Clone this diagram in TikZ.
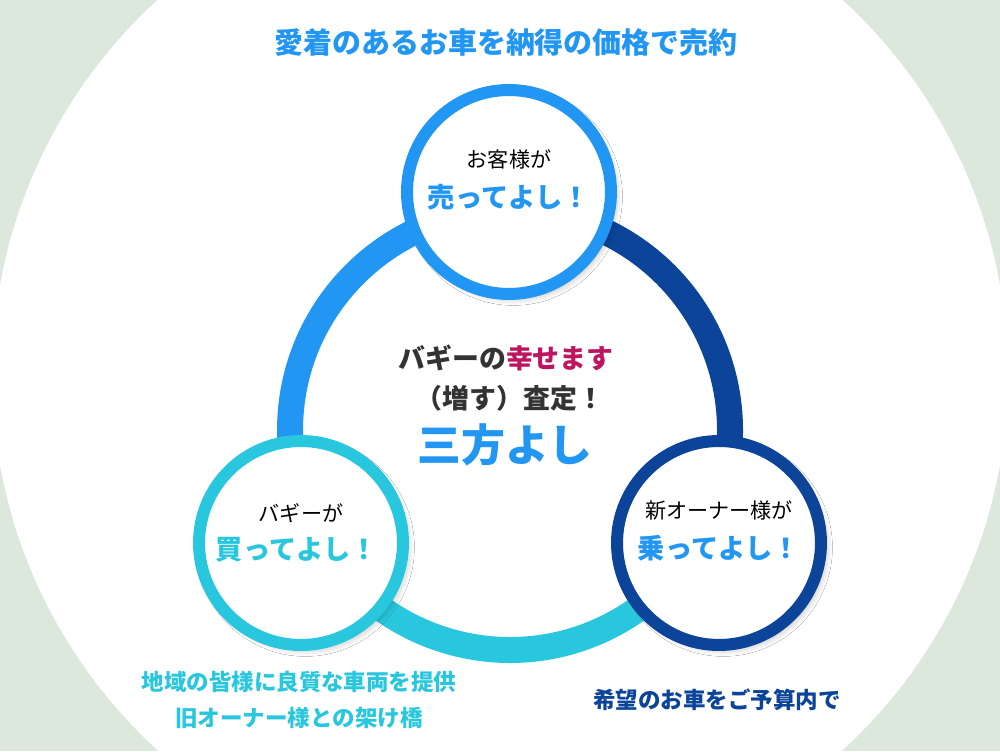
\documentclass[tikz,border=0pt]{standalone}
\usepackage{fontspec}
\setmainfont{Noto Sans CJK JP}
\usetikzlibrary{shadows.blur}

\definecolor{bggreen}{HTML}{DCE8DC}
\definecolor{skyblue}{HTML}{2196F3}
\definecolor{navyblue}{HTML}{0B4499}
\definecolor{aquablue}{HTML}{29C7DE}
\definecolor{berry}{HTML}{BE1560}
\definecolor{inkgray}{HTML}{333333}

\tikzset{
    ring/.style={line width=0.52cm},
    party/.style={circle, draw=#1, fill=white, line width=0.24cm,
        minimum size=4.08cm, inner sep=0pt,
        blur shadow={shadow xshift=2.5pt, shadow yshift=-2.5pt,
            shadow blur radius=4pt, shadow opacity=30}},
    who/.style={text=black, font=\fontsize{12pt}{14pt}\selectfont},
    yoshi/.style={text=skyblue, font=\bfseries\fontsize{15.5pt}{18pt}\selectfont},
    note/.style={font=\bfseries\fontsize{12.8pt}{20.5pt}\selectfont, align=center},
}

\begin{document}
\begin{tikzpicture}[x=0.02cm, y=0.02cm]
    \useasboundingbox (0,0) rectangle (1000,751);
    \fill[bggreen] (0,0) rectangle (1000,751);
    \fill[white] (500,376) circle [radius=10.16cm];

    % title
    \node[text=skyblue, font=\bfseries\fontsize{16.5pt}{20pt}\selectfont] (title) at (506,708)
        {愛着のあるお車を納得の価格で売約};

    % ring
    \coordinate (hub) at (510,321);
    \draw[ring, skyblue] (hub) ++(90:220) arc[start angle=90, end angle=212, radius=4.4cm];
    \draw[ring, navyblue] (hub) ++(-32:220) arc[start angle=-32, end angle=90, radius=4.4cm];
    \draw[ring, aquablue] (hub) ++(210:220) arc[start angle=210, end angle=330, radius=4.4cm];

    % three parties
    \node[party=skyblue] (seller) at (509,559) {};
    \node[party=aquablue] (buggy) at (301,208) {};
    \node[party=navyblue] (owner) at (719,208) {};

    \node[who] (sellerwho) at ([yshift=0.66cm]seller.center) {お客様が};
    \node[yoshi] (selleryoshi) at ([yshift=-0.10cm]seller.center) {売ってよし！};
    \node[who] (buggywho) at ([yshift=0.60cm]buggy.center) {バギーが};
    \node[yoshi, text=aquablue] (buggyyoshi) at ([xshift=-0.08cm, yshift=-0.14cm]buggy.center) {買ってよし！};
    \node[who] (ownerwho) at ([yshift=0.66cm]owner.center) {新オーナー様が};
    \node[yoshi] (owneryoshi) at ([yshift=-0.10cm]owner.center) {乗ってよし！};

    % centre
    \node[text=inkgray, font=\bfseries\fontsize{15.3pt}{18pt}\selectfont] (motto) at (506,393)
        {バギーの\textcolor{berry}{幸せます}};
    \node[text=inkgray, font=\bfseries\fontsize{15.3pt}{18pt}\selectfont] (assess) at (510,353)
        {（増す）査定！};
    \node[text=skyblue, font=\bfseries\fontsize{25pt}{28pt}\selectfont] (sanpo) at (505,306)
        {三方よし};

    % notes
    \node[note, text=aquablue] (buggynote) at (299,51)
        {地域の皆様に良質な車両を提供\\旧オーナー様との架け橋};
    \node[note, text=navyblue] (ownernote) at (717,51) {希望のお車をご予算内で};
\end{tikzpicture}
\end{document}
